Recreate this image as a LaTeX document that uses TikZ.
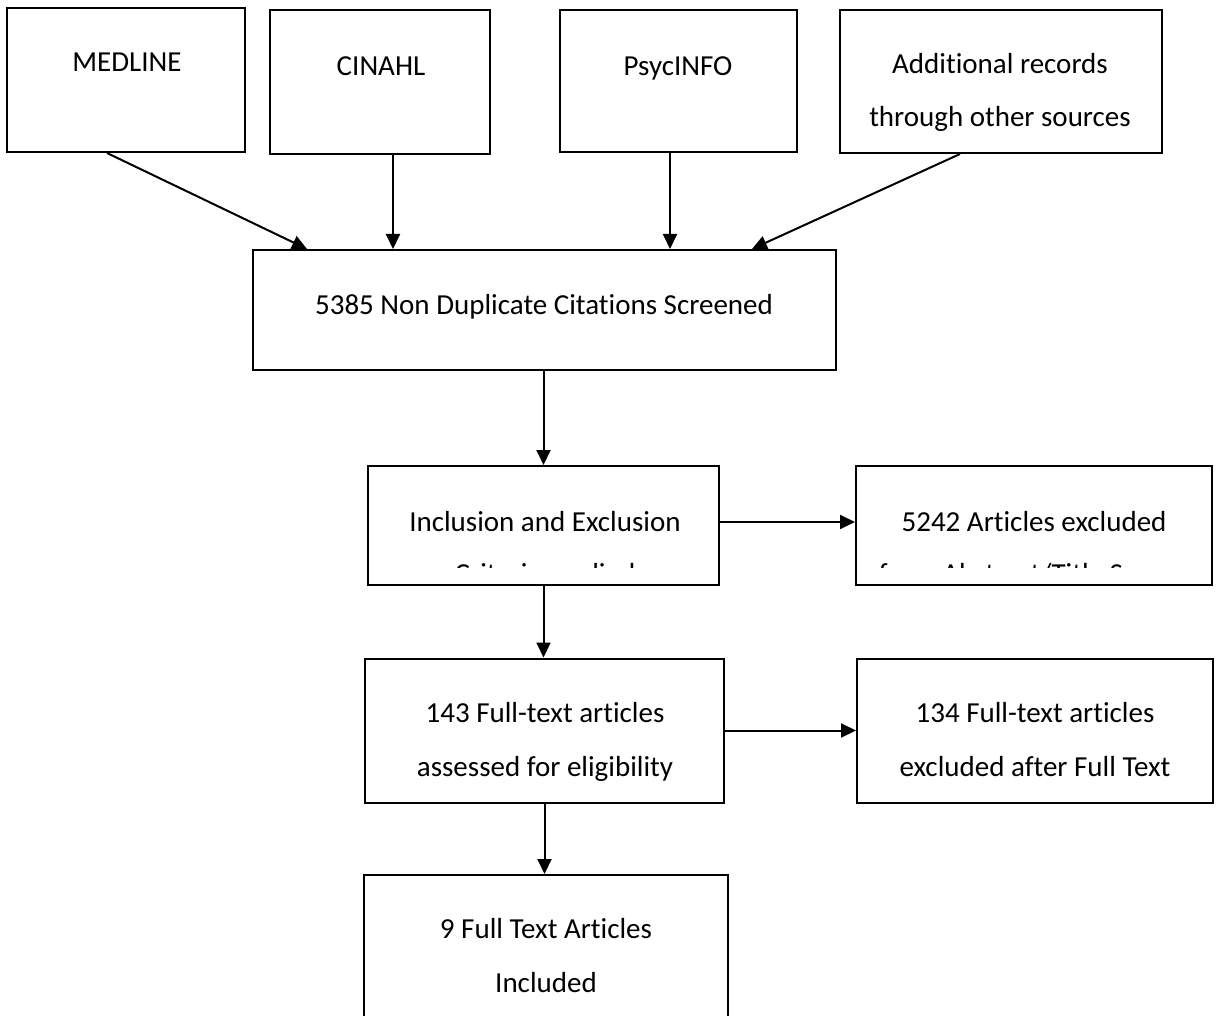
\documentclass[tikz,border=0pt]{standalone}
\usepackage{fontspec}
\setmainfont{Carlito}[Ligatures={NoCommon}]
\usetikzlibrary{arrows.meta}
\begin{document}
\begin{tikzpicture}[x=1pt,y=-1pt,
  box/.style={draw=black,line width=2pt,rectangle,inner sep=0pt},
  txt/.style={anchor=base,inner sep=0pt,align=center,font=\fontsize{29}{53}\selectfont},
  arr/.style={line width=2pt,-{Triangle[length=15pt,width=14pt]}}]
\useasboundingbox (0,0) rectangle (1220,1016);
% boxes
\node[box,minimum width=238pt,minimum height=144pt] (med) at (126,80) {};
\node[box,minimum width=220pt,minimum height=144pt] (cin) at (380,82) {};
\node[box,minimum width=237pt,minimum height=142pt] (psy) at (678.5,81) {};
\node[box,minimum width=322pt,minimum height=143pt] (add) at (1001,81.5) {};
\node[box,minimum width=583pt,minimum height=120pt] (scr) at (544.5,310) {};
\node[box,minimum width=351pt,minimum height=119pt] (inc) at (543.5,525.5) {};
\node[box,minimum width=356pt,minimum height=119pt] (exa) at (1034,525.5) {};
\node[box,minimum width=359pt,minimum height=144pt] (ful) at (544.5,730.5) {};
\node[box,minimum width=356pt,minimum height=144pt] (exf) at (1035,730.5) {};
\node[box,minimum width=364pt,minimum height=160pt] (fin) at (546,955) {};
% texts
\node[txt] (medt) at (127,72) {MEDLINE};
\node[txt] (cint) at (381,76) {CINAHL};
\node[txt] (psyt) at (678,76) {PsycINFO};
\node[txt] (addt) at (1000,74) {Additional records};
\node[txt] (addt2) at (1000,127) {through other sources};
\node[txt] (scrt) at (544,314) {5385 Non Duplicate Citations Screened};
\begin{scope}
\clip (369,467) rectangle (718,567);
\node[txt] (inct) at (545,531) {Inclusion and Exclusion};
\node[txt] (inct2) at (545,583) {Criteria applied};
\end{scope}
\begin{scope}
\clip (857,467) rectangle (1211,567);
\node[txt] (exat) at (1034,531) {5242 Articles excluded};
\node[txt] (exat2) at (1034,583) {from Abstract/Title Screen};
\end{scope}
\node[txt] (fult) at (545,722) {143 Full-text articles};
\node[txt] (fult2) at (545,776) {assessed for eligibility};
\node[txt] (exft) at (1035,722) {134 Full-text articles};
\node[txt] (exft2) at (1035,776) {excluded after Full Text};
\node[txt] (fint) at (546,938) {9 Full Text Articles};
\node[txt] (fint2) at (546,992) {Included};
% connectors
\coordinate (m1) at (107,153);
\coordinate (m2) at (307,249);
\draw[arr] (m1) -- (m2);
\draw[arr] (cin.south -| 393,0) -- (scr.north -| 393,0);
\draw[arr] (psy.south -| 670,0) -- (scr.north -| 670,0);
\coordinate (a1) at (960,154);
\coordinate (a2) at (752,249);
\draw[arr] (a1) -- (a2);
\draw[arr] (scr.south -| inc.north) -- (inc.north);
\coordinate (ie) at (719,522);
\draw[arr] (ie) -- (exa.west |- ie);
\draw[arr] (inc.south) -- (inc.south |- ful.north);
\draw[arr] (ful.east) -- (exf.west |- ful.east);
\draw[arr] (ful.south) -- (ful.south |- fin.north);
\end{tikzpicture}
\end{document}
